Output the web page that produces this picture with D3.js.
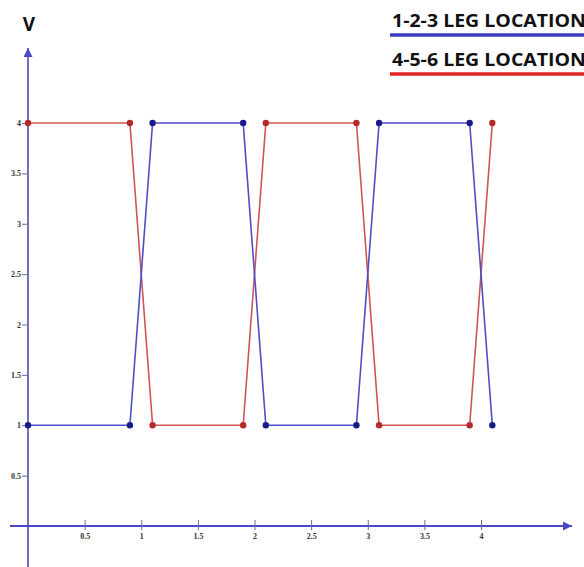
<!DOCTYPE html>
<html>
<head>
<meta charset="utf-8">
<script src="https://cdn.jsdelivr.net/npm/d3@7"></script>
<style>
  body { margin: 0; background: #fff; }
  .tick text { font-family: "Liberation Serif", serif; font-size: 8px; font-weight: bold; fill: #333; }
  .legend { font-family: "Open Sans", sans-serif; font-weight: bold; font-size: 18px; fill: #111; }
</style>
</head>
<body>
<div id="graph"></div>
<script>
// series data
var timeA = [0, 0.9, 1.1, 1.9, 2.1, 2.9, 3.1, 3.9, 4.1]
var legA = [1, 1, 4, 4, 1, 1, 4, 4, 1]   // 1-2-3 leg location (blue)
var legB = [4, 4, 1, 1, 4, 4, 1, 1, 4]   // 4-5-6 leg location (red)

var xTicks = [0.5, 1, 1.5, 2, 2.5, 3, 3.5, 4]
var yTicks = [0.5, 1, 1.5, 2, 2.5, 3, 3.5, 4]
var legendNames = ["1-2-3 LEG LOCATION", "4-5-6 LEG LOCATION"]

var width = 584, height = 567

var svg = d3.select('#graph').append('svg')
  .attr('width', width).attr('height', height)

var x = d3.scaleLinear().domain([0, 4]).range([28, 481])
var y = d3.scaleLinear().domain([0, 4]).range([526, 123])

var defs = svg.append('defs')
defs.append('marker').attr('id', 'arrX')
  .attr('viewBox', '0 0 10 10').attr('refX', 10).attr('refY', 5)
  .attr('markerWidth', 4.5).attr('markerHeight', 4.5).attr('markerUnits', 'strokeWidth')
  .attr('orient', 'auto')
  .append('path').attr('d', 'M0,0L10,5L0,10z').attr('fill', '#4a4ac8')
defs.append('marker').attr('id', 'arrY')
  .attr('viewBox', '0 0 10 10').attr('refX', 10).attr('refY', 5)
  .attr('markerWidth', 4.5).attr('markerHeight', 4.5).attr('markerUnits', 'strokeWidth')
  .attr('orient', 'auto')
  .append('path').attr('d', 'M0,0L10,5L0,10z').attr('fill', '#4a4ac8')

// axis lines with arrows
svg.append('line')
  .attr('x1', x(0)).attr('y1', height).attr('x2', x(0)).attr('y2', 48)
  .attr('stroke', '#7272b4').attr('stroke-width', 2)
  .attr('marker-end', 'url(#arrY)')
svg.append('line')
  .attr('x1', 10).attr('y1', y(0)).attr('x2', 572).attr('y2', y(0))
  .attr('stroke', '#4a4ac8').attr('stroke-width', 2)
  .attr('marker-end', 'url(#arrX)')

var fmt = function(d) { return String(d) }

// ticks
var gx = svg.append('g')
  .attr('transform', 'translate(0,' + (y(0) - 6) + ')')
  .call(d3.axisBottom(x).tickValues(xTicks).tickFormat(fmt).tickSize(10).tickPadding(3))
gx.select('.domain').remove()
gx.selectAll('.tick line').attr('stroke', '#6a6a9a')

var gy = svg.append('g')
  .attr('transform', 'translate(' + x(0) + ',0)')
  .call(d3.axisLeft(y).tickValues(yTicks).tickFormat(fmt).tickSize(6).tickPadding(1))
gy.select('.domain').remove()
gy.selectAll('.tick line').attr('stroke', '#6a6a9a')

// lines
var line = d3.line()
  .x(function(d) { return x(d[0]) })
  .y(function(d) { return y(d[1]) })

var series = [
  {vals: legB, line: '#d05454', dot: '#b42a2a'},
  {vals: legA, line: '#4e4ec8', dot: '#1a1a8a'}
]

series.forEach(function(s) {
  var pts = timeA.map(function(t, i) { return [t, s.vals[i]] })
  svg.append('path').datum(pts)
    .attr('d', line)
    .attr('fill', 'none')
    .attr('stroke', s.line)
    .attr('stroke-width', 1.6)
  svg.selectAll(null).data(pts).enter().append('circle')
    .attr('cx', function(d) { return x(d[0]) })
    .attr('cy', function(d) { return y(d[1]) })
    .attr('r', 3.2)
    .attr('fill', s.dot)
})

// V label
svg.append('text')
  .attr('x', 29).attr('y', 31)
  .attr('text-anchor', 'middle')
  .style('font-family', '"Open Sans", sans-serif')
  .style('font-weight', 'bold')
  .style('font-size', '19px')
  .style('fill', '#111')
  .text('V')

// legend
var legColors = ['#3c3cc4', '#e02424']
legendNames.forEach(function(name, i) {
  var top = i * 39
  svg.append('text').attr('class', 'legend')
    .attr('x', 392).attr('y', 27 + top)
    .attr('textLength', 194).attr('lengthAdjust', 'spacingAndGlyphs')
    .text(name)
  svg.append('line')
    .attr('x1', 390).attr('x2', width)
    .attr('y1', 35 + top).attr('y2', 35 + top)
    .attr('stroke', legColors[i]).attr('stroke-width', 3.5)
})
</script>
</body>
</html>
